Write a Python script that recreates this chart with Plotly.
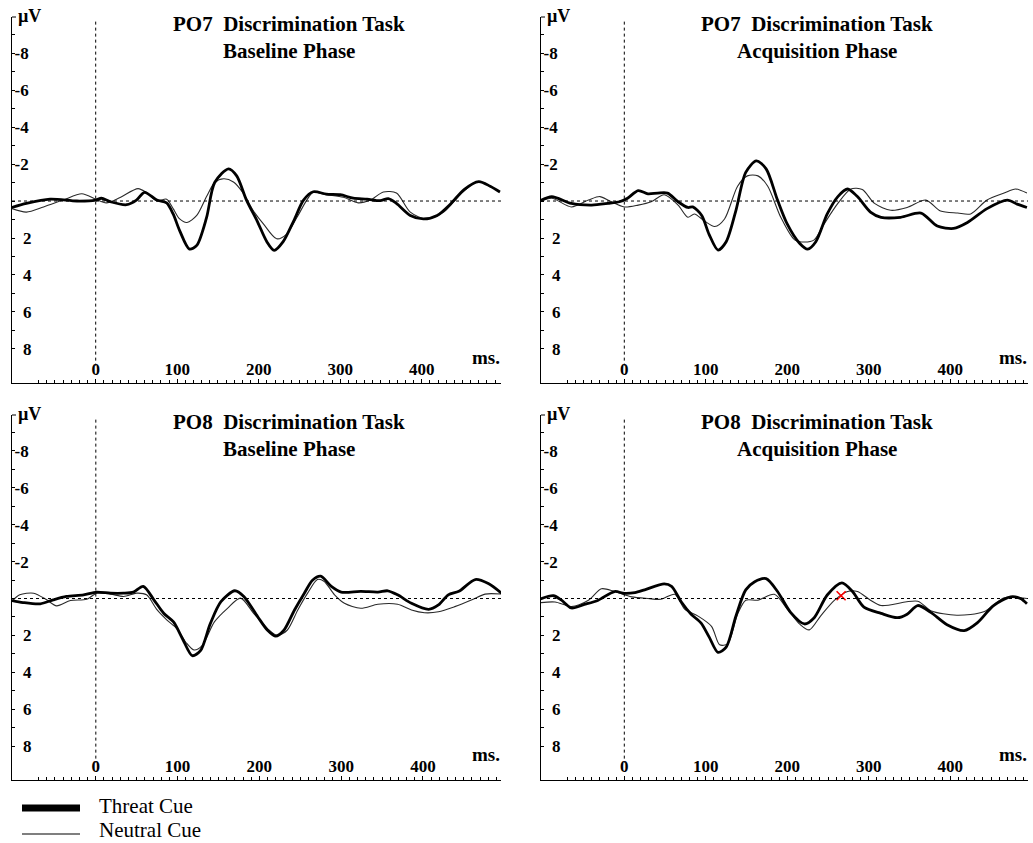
import plotly.graph_objects as go

# ---------------- data (ms, µV) ----------------
po7_base_threat_t = [-103, -85, -56, -23, 0, 7, 18, 38, 50, 60, 75, 87, 95, 103, 115, 124, 136, 146, 163, 173, 185, 198, 210, 219, 230, 243, 255, 267, 283, 300, 316, 333, 349, 359, 369, 386, 402, 419, 436, 452, 470, 484, 496]
po7_base_threat_v = [0.35, 0.13, -0.1, 0.0, -0.05, -0.15, 0.04, 0.2, -0.05, -0.47, -0.05, 0.1, 0.7, 1.6, 2.6, 2.4, 0.9, -1.0, -1.74, -1.36, -0.05, 1.07, 2.2, 2.67, 2.2, 1.07, -0.05, -0.5, -0.37, -0.34, -0.15, -0.1, -0.02, -0.13, 0.13, 0.78, 0.97, 0.78, 0.13, -0.62, -1.05, -0.8, -0.49]
po7_base_neutral_t = [-103, -85, -64, -40, -17, 0, 13, 30, 52, 63, 75, 87, 95, 103, 112, 124, 136, 146, 157, 169, 181, 193, 206, 222, 234, 247, 259, 267, 283, 304, 322, 337, 353, 369, 386, 406, 427, 447, 468, 484, 496]
po7_base_neutral_v = [0.41, 0.6, 0.32, -0.05, -0.39, -0.1, 0.1, -0.19, -0.67, -0.43, 0.0, -0.1, 0.41, 0.97, 1.16, 0.78, -0.24, -1.0, -1.2, -1.03, -0.43, 0.5, 1.25, 2.04, 1.8, 0.88, -0.05, -0.47, -0.34, -0.2, 0.1, -0.05, -0.49, -0.43, 0.6, 0.97, 0.6, -0.34, -1.05, -0.8, -0.49]

po7_acq_threat_t = [-104, -89, -65, -40, -20, -6, 4, 17, 29, 41, 53, 66, 78, 84, 95, 104, 115, 125, 137, 149, 162, 174, 188, 200, 215, 225, 235, 249, 262, 274, 286, 302, 315, 339, 364, 384, 404, 421, 445, 470, 482, 494]
po7_acq_threat_v = [0.0, -0.24, 0.13, 0.22, 0.13, 0.04, -0.15, -0.56, -0.39, -0.43, -0.43, 0.04, 0.35, 0.32, 0.78, 1.8, 2.65, 2.2, 0.5, -1.55, -2.17, -1.74, -0.05, 1.25, 2.28, 2.6, 2.2, 0.7, -0.24, -0.65, -0.24, 0.6, 0.88, 0.88, 0.65, 1.35, 1.48, 1.16, 0.41, -0.05, 0.17, 0.35]
po7_acq_neutral_t = [-104, -89, -65, -44, -30, -18, 0, 17, 33, 49, 66, 78, 86, 98, 111, 123, 139, 151, 164, 176, 192, 209, 221, 233, 245, 262, 278, 292, 307, 327, 347, 370, 388, 409, 425, 445, 466, 480, 494]
po7_acq_neutral_v = [0.04, -0.15, 0.32, -0.05, -0.24, 0.0, 0.32, 0.22, 0.04, -0.34, 0.22, 0.88, 0.7, 1.07, 1.38, 0.97, -0.8, -1.36, -1.36, -0.8, 0.88, 2.1, 2.22, 2.1, 1.25, 0.13, -0.65, -0.62, 0.13, 0.5, 0.35, -0.05, 0.54, 0.65, 0.7, -0.05, -0.43, -0.65, -0.43]

po8_base_threat_t = [-103, -89, -68, -52, -36, -15, 1, 18, 34, 46, 58, 71, 83, 95, 106, 118, 128, 140, 153, 170, 181, 198, 210, 220, 230, 243, 255, 265, 275, 288, 300, 324, 345, 357, 369, 386, 407, 419, 431, 444, 464, 480, 496]
po8_base_threat_v = [0.11, 0.22, 0.29, 0.07, -0.11, -0.2, -0.35, -0.29, -0.29, -0.35, -0.66, 0.07, 0.8, 1.27, 2.18, 3.1, 2.83, 1.36, 0.17, -0.42, -0.11, 0.99, 1.72, 2.04, 1.72, 0.62, -0.29, -0.99, -1.21, -0.66, -0.35, -0.39, -0.35, -0.42, -0.2, 0.26, 0.59, 0.35, -0.2, -0.39, -1.03, -0.81, -0.29]
po8_base_neutral_t = [-103, -93, -76, -60, -48, -31, -11, 1, 18, 34, 50, 62, 75, 87, 99, 110, 120, 130, 145, 161, 177, 193, 210, 222, 234, 247, 259, 271, 279, 292, 304, 324, 345, 369, 386, 402, 419, 439, 460, 476, 496]
po8_base_neutral_v = [0.17, -0.2, -0.29, 0.07, 0.4, 0.11, 0.04, -0.29, -0.24, -0.11, -0.29, -0.2, 0.62, 1.17, 1.63, 2.37, 2.79, 2.55, 1.27, 0.53, -0.02, 0.8, 1.63, 2.0, 1.72, 0.62, -0.29, -1.03, -0.94, -0.2, 0.26, 0.53, 0.31, 0.31, 0.62, 0.77, 0.72, 0.44, 0.07, -0.24, -0.24]

po8_acq_threat_t = [-104, -87, -77, -65, -49, -32, -12, 0, 13, 25, 49, 58, 70, 82, 94, 104, 115, 125, 137, 149, 160, 174, 188, 204, 221, 233, 249, 267, 280, 294, 315, 335, 347, 360, 376, 396, 417, 433, 453, 474, 486, 494]
po8_acq_threat_v = [0.04, -0.15, 0.09, 0.51, 0.32, 0.09, -0.38, -0.28, -0.32, -0.47, -0.79, -0.66, 0.19, 0.85, 1.32, 2.08, 2.92, 2.64, 0.94, -0.47, -0.91, -1.08, -0.38, 0.75, 1.38, 1.04, -0.19, -0.85, -0.38, 0.47, 0.81, 1.04, 0.85, 0.38, 0.75, 1.42, 1.74, 1.32, 0.38, -0.09, 0.0, 0.28]
po8_acq_neutral_t = [-104, -85, -65, -44, -28, -12, 9, 29, 45, 62, 74, 90, 107, 117, 127, 139, 149, 164, 184, 200, 216, 227, 241, 258, 274, 286, 302, 315, 360, 376, 408, 441, 466, 486, 494]
po8_acq_neutral_v = [0.23, 0.19, 0.43, 0.09, -0.53, -0.38, -0.09, 0.0, 0.04, -0.23, 0.57, 0.94, 1.51, 2.51, 2.45, 0.85, 0.09, 0.09, -0.23, 0.57, 1.42, 1.7, 0.94, 0.09, -0.38, -0.38, 0.09, 0.38, 0.15, 0.66, 0.91, 0.72, -0.04, -0.04, 0.0]

cursor_t = [266]
cursor_v = [-0.15]

panel_titles = [
    ("PO7\u00a0\u00a0Discrimination Task", "Baseline Phase"),
    ("PO7\u00a0\u00a0Discrimination Task", "Acquisition Phase"),
    ("PO8\u00a0\u00a0Discrimination Task", "Baseline Phase"),
    ("PO8\u00a0\u00a0Discrimination Task", "Acquisition Phase"),
]
x_tick_vals = [0, 100, 200, 300, 400]
y_tick_vals = [-8, -6, -4, -2, 2, 4, 6, 8]
legend_labels = ["Threat Cue", "Neutral Cue"]

series = [
    (po7_base_threat_t, po7_base_threat_v, po7_base_neutral_t, po7_base_neutral_v),
    (po7_acq_threat_t, po7_acq_threat_v, po7_acq_neutral_t, po7_acq_neutral_v),
    (po8_base_threat_t, po8_base_threat_v, po8_base_neutral_t, po8_base_neutral_v),
    (po8_acq_threat_t, po8_acq_threat_v, po8_acq_neutral_t, po8_acq_neutral_v),
]

# ---------------- layout geometry (pixels in 1033x843) ----------------
W, H = 1033, 843
panels_px = [  # left, right, top, bottom, x-range, y-range
    (12, 501, 17, 383, [-102.7, 497.3], [9.84, -9.95]),
    (541, 1028, 17, 383, [-102.2, 495.3], [9.84, -9.95]),
    (12, 501, 415, 780, [-102.5, 495.5], [9.84, -9.95]),
    (541, 1028, 415, 780, [-102.2, 495.3], [9.84, -9.95]),
]

FONT = "Liberation Serif, Times New Roman, serif"
fig = go.Figure()
layout = dict(
    width=W, height=H, margin=dict(l=0, r=0, t=0, b=0),
    paper_bgcolor="white", plot_bgcolor="white", showlegend=False,
    font=dict(family=FONT, color="black"),
)
annotations = []
shapes = []

ylabels = [("\u2002" + str(v)) if v > 0 else str(v) for v in y_tick_vals]
tickfont = dict(family=FONT, size=17, color="black", weight="bold")

for i, ((l, r, t, b, xr, yr), (tt, tv, nt, nv)) in enumerate(zip(panels_px, series)):
    k = "" if i == 0 else str(i + 1)
    xa, ya = "x" + k, "y" + k
    fig.add_trace(go.Scatter(x=nt, y=nv, mode="lines", xaxis=xa, yaxis=ya,
                             line=dict(color="#2a2a2a", width=1.1, shape="spline", smoothing=0.8),
                             name=legend_labels[1], hoverinfo="skip"))
    fig.add_trace(go.Scatter(x=tt, y=tv, mode="lines", xaxis=xa, yaxis=ya,
                             line=dict(color="black", width=2.8, shape="spline", smoothing=0.8),
                             name=legend_labels[0], hoverinfo="skip"))
    layout["xaxis" + k] = dict(
        domain=[l / W, r / W], range=xr, anchor=ya, showgrid=False, zeroline=False,
        showline=True, linecolor="black", linewidth=1,
        tickmode="array", tickvals=x_tick_vals, ticks="inside", ticklen=4, tickcolor="black",
        ticklabelposition="inside", tickfont=tickfont, ticklabelstandoff=1,
        minor=dict(dtick=10, tick0=0, ticks="inside", ticklen=3, tickcolor="black", showgrid=False),
    )
    layout["yaxis" + k] = dict(
        domain=[1 - b / H, 1 - t / H], range=yr, anchor=xa, showgrid=False, zeroline=False,
        showline=True, linecolor="black", linewidth=1,
        tickmode="array", tickvals=y_tick_vals, ticktext=ylabels,
        ticks="inside", ticklen=3, tickcolor="black",
        ticklabelposition="inside", tickfont=tickfont,
        minor=dict(dtick=1, tick0=1, ticks="inside", ticklen=3, tickcolor="black", showgrid=False),
    )
    # reference lines
    shapes.append(dict(type="line", xref=xa, yref=ya, x0=0, x1=0, y0=-9.7, y1=8.9,
                       line=dict(color="black", width=1, dash="3px,3px")))
    shapes.append(dict(type="line", xref=xa, yref=ya, x0=xr[0], x1=xr[1], y0=0, y1=0,
                       line=dict(color="black", width=1, dash="3px,3px")))
    # titles
    cx = (l + r) / 2 + 32
    annotations.append(dict(text="<b>%s</b>" % panel_titles[i][0], xref="paper", yref="paper",
                            x=cx / W, y=1 - (t + 7) / H, xanchor="center", yanchor="middle",
                            showarrow=False, font=dict(family=FONT, size=21, color="black")))
    annotations.append(dict(text="<b>%s</b>" % panel_titles[i][1], xref="paper", yref="paper",
                            x=cx / W, y=1 - (t + 34) / H, xanchor="center", yanchor="middle",
                            showarrow=False, font=dict(family=FONT, size=21, color="black")))
    annotations.append(dict(text="<b>µV</b>", xref="paper", yref="paper",
                            x=(l + 4) / W, y=1 - (t - 1) / H, xanchor="left", yanchor="middle",
                            showarrow=False, font=dict(family=FONT, size=18, color="black")))
    annotations.append(dict(text="<b>ms.</b>", xref="paper", yref="paper",
                            x=(r + 1) / W, y=1 - (b - 26) / H, xanchor="right", yanchor="middle",
                            showarrow=False, font=dict(family=FONT, size=19, color="black")))
    # small end tick at top of the y axis
    shapes.append(dict(type="line", xref="paper", yref="paper", x0=l / W, x1=(l + 4) / W,
                       y0=1 - t / H, y1=1 - t / H, line=dict(color="black", width=1)))

# cursor mark in the last panel
fig.add_trace(go.Scatter(x=cursor_t, y=cursor_v, mode="markers", xaxis="x4", yaxis="y4",
                         marker=dict(symbol="x-thin", size=9, line=dict(color="red", width=1.6)),
                         hoverinfo="skip"))

# legend (manual)
shapes.append(dict(type="line", xref="paper", yref="paper", x0=22 / W, x1=80 / W,
                   y0=1 - 808 / H, y1=1 - 808 / H, line=dict(color="black", width=7)))
shapes.append(dict(type="line", xref="paper", yref="paper", x0=22 / W, x1=80 / W,
                   y0=1 - 834 / H, y1=1 - 834 / H, line=dict(color="black", width=1.2)))
annotations.append(dict(text=legend_labels[0], xref="paper", yref="paper", x=97 / W, y=1 - 806 / H,
                        xanchor="left", yanchor="middle", showarrow=False,
                        font=dict(family=FONT, size=21, color="black")))
annotations.append(dict(text=legend_labels[1], xref="paper", yref="paper", x=97 / W, y=1 - 830 / H,
                        xanchor="left", yanchor="middle", showarrow=False,
                        font=dict(family=FONT, size=21, color="black")))

layout["annotations"] = annotations
layout["shapes"] = shapes
fig.update_layout(**layout)
fig.write_html("out.html")
